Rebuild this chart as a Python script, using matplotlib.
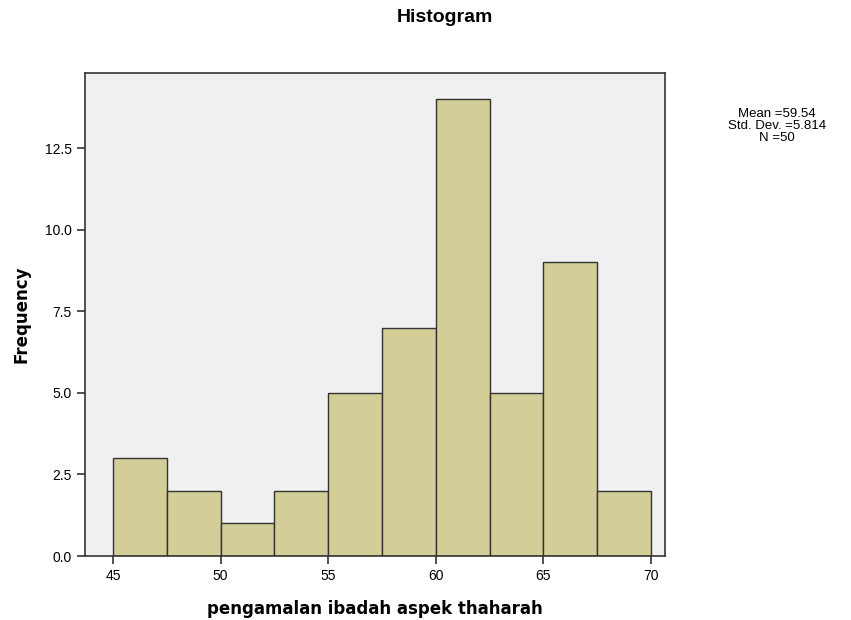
import numpy as np
import matplotlib.pyplot as plt

bin_edges = [45, 47.5, 50, 52.5, 55, 57.5, 60, 62.5, 65, 67.5, 70]
frequencies = [3, 2, 1, 2, 5, 7, 14, 5, 9, 2]
x_ticks = [45, 50, 55, 60, 65, 70]
y_ticks = [0.0, 2.5, 5.0, 7.5, 10.0, 12.5]
stats_text = "Mean =59.54\nStd. Dev. =5.814\nN =50"

fig = plt.figure(figsize=(8.51, 6.2), dpi=100)
ax = fig.add_axes([85 / 851, 1 - 556 / 620, 580 / 851, 483 / 620])
ax.set_facecolor("#F0F0F0")

widths = np.diff(bin_edges)
ax.bar(bin_edges[:-1], frequencies, width=widths, align="edge",
       color="#D3CE98", edgecolor="#333333", linewidth=1.0, zorder=2)

ax.set_xlim(43.7, 70.65)
ax.set_ylim(0, 14.8)
ax.set_xticks(x_ticks)
ax.set_yticks(y_ticks)
ax.set_yticklabels([f"{v:.1f}" for v in y_ticks])
ax.tick_params(direction="out", length=6, width=1.2, colors="#333333",
               labelsize=10, labelcolor="black")
for lab in ax.get_xticklabels() + ax.get_yticklabels():
    lab.set_family("Liberation Sans")
for s in ax.spines.values():
    s.set_color("#333333")
    s.set_linewidth(1.2)

ax.set_xlabel("pengamalan ibadah aspek thaharah", fontsize=12,
              fontweight="bold", labelpad=12)
ax.set_ylabel("Frequency", fontsize=12, fontweight="bold", labelpad=10)

fig.text(445 / 851, 1 - 18 / 620, "Histogram", ha="center", va="center",
         fontsize=14, fontweight="bold", family="Liberation Sans")
fig.text(777 / 851, 1 - 126 / 620, stats_text, ha="center", va="center",
         fontsize=9.5, family="Liberation Sans", linespacing=0.95)

fig.savefig("out.png", dpi=100)
